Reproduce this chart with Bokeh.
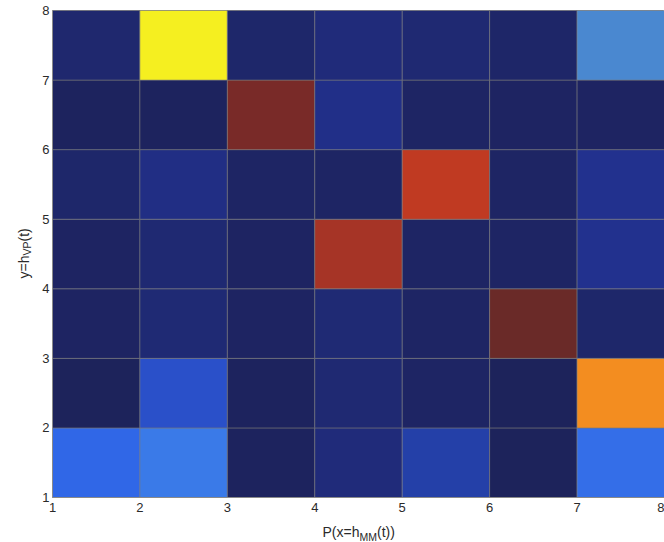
import numpy as np
from bokeh.plotting import figure
from bokeh.layouts import row, column
from bokeh.models import ColumnDataSource, LinearColorMapper, Range1d, FixedTicker, Label
from bokeh.transform import transform
from bokeh.embed import file_html
from bokeh.resources import INLINE

# bin edges along each axis (left/bottom edge of each cell)
x_bins = [1, 2, 3, 4, 5, 6, 7]
y_bins = [1, 2, 3, 4, 5, 6, 7]
x_ticks = [1, 2, 3, 4, 5, 6, 7, 8]
y_ticks = [1, 2, 3, 4, 5, 6, 7, 8]

# normalised joint frequency, one list per y bin (columns follow x_bins)
row_y1 = [0.30, 0.35, 0.03, 0.11, 0.20, 0.02, 0.32]
row_y2 = [0.02, 0.25, 0.03, 0.09, 0.05, 0.02, 0.75]
row_y3 = [0.04, 0.10, 0.04, 0.10, 0.05, 1.00, 0.07]
row_y4 = [0.04, 0.09, 0.04, 0.90, 0.05, 0.05, 0.15]
row_y5 = [0.07, 0.13, 0.05, 0.05, 0.85, 0.05, 0.15]
row_y6 = [0.03, 0.03, 0.95, 0.14, 0.05, 0.04, 0.04]
row_y7 = [0.08, 0.63, 0.07, 0.11, 0.09, 0.06, 0.40]
rows = [row_y1, row_y2, row_y3, row_y4, row_y5, row_y6, row_y7]

# axis titles, split where the subscript starts and ends
x_title = ["P(x=h", "MM", "(t))"]
y_title = ["y=h", "VP", "(t)"]

xs, ys, vals = [], [], []
for yb, r in zip(y_bins, rows):
    for xb, v in zip(x_bins, r):
        xs.append(xb + 0.5)
        ys.append(yb + 0.5)
        vals.append(v)
source = ColumnDataSource(dict(x=xs, y=ys, v=vals))

# jet-like colour map with muted, print-style tones
anchors = [
    (0.00, "#1c2155"), (0.05, "#1e2565"), (0.10, "#1f2a75"), (0.15, "#22318f"),
    (0.20, "#2440a8"), (0.25, "#2a50c8"), (0.30, "#3068e8"), (0.35, "#3a7ae8"),
    (0.40, "#4a88d0"), (0.50, "#40c8d8"), (0.58, "#b0e050"), (0.63, "#f5f020"),
    (0.75, "#f59020"), (0.85, "#c03a22"), (0.90, "#a83426"), (0.95, "#7a2a28"),
    (1.00, "#6a2a28"),
]
pos = np.array([a[0] for a in anchors])
rgb = np.array([[int(c[i:i + 2], 16) for i in (1, 3, 5)] for _, c in anchors], float)
palette = []
for g in np.linspace(0, 1, 256):
    r_, g_, b_ = (np.interp(g, pos, rgb[:, k]) for k in range(3))
    palette.append("#%02x%02x%02x" % (int(round(r_)), int(round(g_)), int(round(b_))))
mapper = LinearColorMapper(palette=palette, low=0.0, high=1.0)

FONT = "Liberation Sans"
INK = "#2a2a2a"

# page geometry (pixels)
W, H = 664, 542
LAB_W = 38          # strip holding the rotated y title
LAB_H = 23          # strip holding the x title
MAIN_W, MAIN_H = W - LAB_W, H - LAB_H

# ---- main heat map -------------------------------------------------------
p = figure(width=MAIN_W, height=MAIN_H, x_range=Range1d(1, 8), y_range=Range1d(1, 8),
           output_backend="svg", toolbar_location=None,
           min_border_left=52 - LAB_W, min_border_right=0, min_border_top=10,
           min_border_bottom=22)
p.background_fill_color = "white"
p.border_fill_color = "white"
p.outline_line_color = "#8a8a8a"
p.grid.visible = False

p.rect(x="x", y="y", width=1, height=1, source=source,
       fill_color=transform("v", mapper), line_color="#7a7a7a",
       line_width=0.8, line_alpha=0.7)

for ax in (p.xaxis[0], p.yaxis[0]):
    ax.axis_line_color = "#8a8a8a"
    ax.major_tick_in = 0
    ax.major_tick_out = 0
    ax.minor_tick_line_color = None
    ax.major_label_text_font = FONT
    ax.major_label_text_font_size = "13px"
    ax.major_label_text_color = INK
p.xaxis.ticker = FixedTicker(ticks=x_ticks)
p.yaxis.ticker = FixedTicker(ticks=y_ticks)
p.xaxis.major_label_standoff = 5
p.yaxis.major_label_standoff = 3


def strip(width, height):
    f = figure(width=width, height=height, x_range=Range1d(0, 1),
               y_range=Range1d(0, 1), output_backend="svg",
               toolbar_location=None, x_axis_type=None, y_axis_type=None,
               min_border_left=0, min_border_right=0, min_border_top=0,
               min_border_bottom=0)
    f.outline_line_color = None
    f.grid.visible = False
    f.background_fill_color = "white"
    f.border_fill_color = "white"
    return f


def put(fig, cx, cy, text, size, angle=0.0):
    # cx, cy: canvas pixels of the strip, from its top-left corner
    fig.add_layout(Label(x=cx, y=cy, x_units="canvas", y_units="canvas",
                         text=text, text_font=FONT, text_font_size=size,
                         text_color=INK, text_align="left",
                         text_baseline="alphabetic", angle=angle))


# ---- x title strip (sits under the heat map) -------------------------------
xl = strip(MAIN_W, LAB_H)
x0 = 322 - LAB_W
put(xl, x0, 531 - MAIN_H, x_title[0], "14px")
put(xl, x0 + 37, 536 - MAIN_H, x_title[1], "10.5px")
put(xl, x0 + 54.5, 531 - MAIN_H, x_title[2], "14px")

# ---- y title strip (left of everything), reading upwards --------------------
yl = strip(LAB_W, H)
put(yl, 23, 278, y_title[0], "14px", np.pi / 2)
put(yl, 26.5, 255, y_title[1], "10.5px", np.pi / 2)
put(yl, 23, 241, y_title[2], "14px", np.pi / 2)

page = row(yl, column(p, xl, spacing=0), spacing=0)

open("out.html", "w").write(file_html(page, INLINE))
